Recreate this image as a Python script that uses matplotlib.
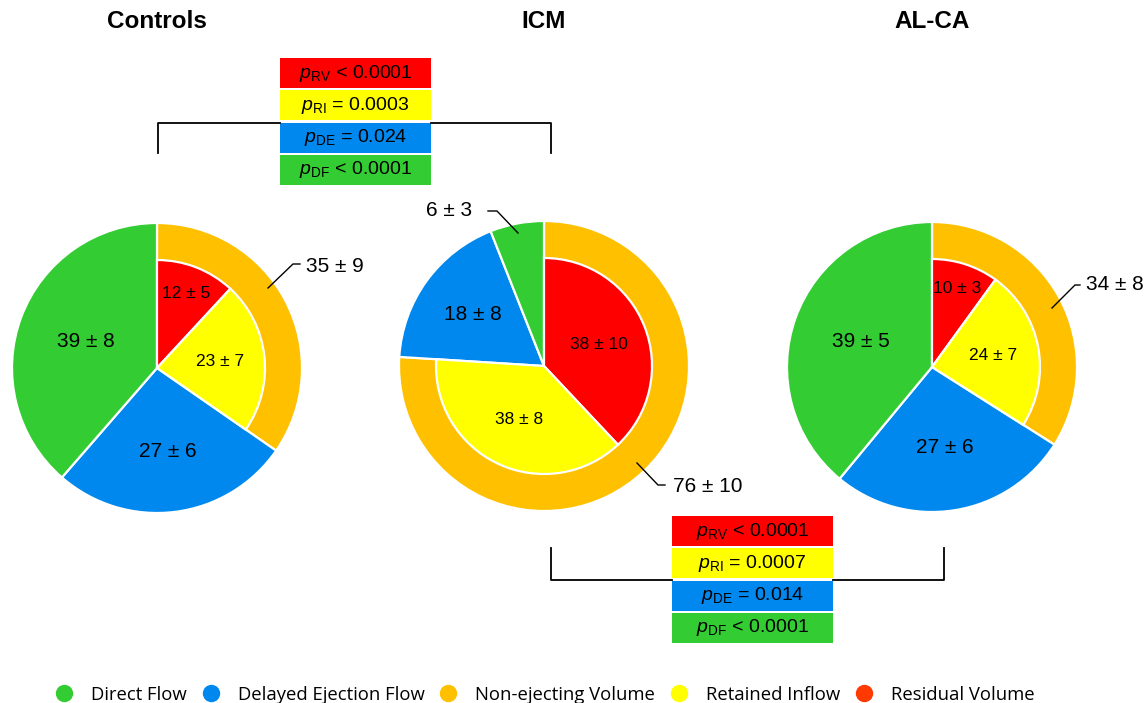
import matplotlib.pyplot as plt
from matplotlib.lines import Line2D
from matplotlib.patches import Rectangle
import numpy as np

plt.rcParams['font.family'] = ['Liberation Sans', 'DejaVu Sans']
plt.rcParams['mathtext.fontset'] = 'custom'
plt.rcParams['mathtext.rm'] = 'Liberation Sans'
plt.rcParams['mathtext.it'] = 'Liberation Sans:italic'

# data (% of LV end-diastolic volume, mean and sd)
groups = ['Controls', 'ICM', 'AL-CA']
direct_flow = [39, 6, 39]
direct_flow_sd = [8, 3, 5]
delayed_ejection = [27, 18, 27]
delayed_ejection_sd = [6, 8, 6]
non_ejecting = [35, 76, 34]
non_ejecting_sd = [9, 10, 8]
retained_inflow = [23, 38, 24]
retained_inflow_sd = [7, 8, 7]
residual_volume = [12, 38, 10]
residual_volume_sd = [5, 10, 3]

p_names = ['RV', 'RI', 'DE', 'DF']
p_controls_icm = ['< 0.0001', '= 0.0003', '= 0.024', '< 0.0001']
p_icm_alca = ['< 0.0001', '= 0.0007', '= 0.014', '< 0.0001']

legend_names = ['Direct Flow', 'Delayed Ejection Flow', 'Non-ejecting Volume',
                'Retained Inflow', 'Residual Volume']

GREEN = '#33CC33'
BLUE = '#0088EE'
ORANGE = '#FFC000'
YELLOW = '#FFFF00'
RED = '#FF0000'

W, H = 1147, 703
fig = plt.figure(figsize=(W / 100, H / 100), dpi=100)
ax = fig.add_axes([0, 0, 1, 1])

def Y(y):
    return H - y

centers = [(157, 368), (544, 366), (932, 367)]
R = 145
R_IN = 108
# radial position of labels (fraction of R): green, blue, red, yellow
label_r = [[0.52, 0.58, 0.55, 0.44],
           [None, 0.61, 0.41, 0.41],
           [0.52, 0.56, 0.57, 0.43]]

def put_label(w, c, frac, txt, size):
    th = np.deg2rad((w.theta1 + w.theta2) / 2)
    ax.text(c[0] + frac * R * np.cos(th), Y(c[1]) + frac * R * np.sin(th), txt,
            ha='center', va='center', fontsize=size)

for i in range(3):
    c = centers[i]
    outer = [non_ejecting[i], delayed_ejection[i], direct_flow[i]]
    ow, _ = ax.pie(outer, colors=[ORANGE, BLUE, GREEN], startangle=90, counterclock=False,
                   radius=R, center=(c[0], Y(c[1])),
                   wedgeprops=dict(edgecolor='white', linewidth=1.6))
    total = sum(outer)
    inner = [residual_volume[i], retained_inflow[i], total - residual_volume[i] - retained_inflow[i]]
    iw, _ = ax.pie(inner, colors=[RED, YELLOW, 'none'], startangle=90, counterclock=False,
                   radius=R_IN, center=(c[0], Y(c[1])),
                   wedgeprops=dict(edgecolor='white', linewidth=1.6))
    iw[2].set_visible(False)

    lr = label_r[i]
    if lr[0] is not None:
        put_label(ow[2], c, lr[0], f'{direct_flow[i]} ± {direct_flow_sd[i]}', 15)
    put_label(ow[1], c, lr[1], f'{delayed_ejection[i]} ± {delayed_ejection_sd[i]}', 15)
    put_label(iw[0], c, lr[2], f'{residual_volume[i]} ± {residual_volume_sd[i]}', 12.5)
    put_label(iw[1], c, lr[3], f'{retained_inflow[i]} ± {retained_inflow_sd[i]}', 12.5)

    ax.text(c[0], Y(22), groups[i], ha='center', va='center', fontsize=17.5, fontweight='bold')

# leader lines for outside labels
ax.plot([268, 293, 300], [Y(288), Y(264), Y(264)], color='black', lw=1)
ax.text(306, Y(266), f'{non_ejecting[0]} ± {non_ejecting_sd[0]}', ha='left', va='center', fontsize=15)
ax.plot([518, 497, 488], [Y(233), Y(211), Y(211)], color='black', lw=1)
ax.text(472, Y(211), f'{direct_flow[1]} ± {direct_flow_sd[1]}', ha='right', va='center', fontsize=15)
ax.plot([637, 658, 665], [Y(463), Y(485), Y(485)], color='black', lw=1)
ax.text(673, Y(486), f'{non_ejecting[1]} ± {non_ejecting_sd[1]}', ha='left', va='center', fontsize=15)
ax.plot([1052, 1075, 1080], [Y(308), Y(285), Y(285)], color='black', lw=1)
ax.text(1086, Y(285), f'{non_ejecting[2]} ± {non_ejecting_sd[2]}', ha='left', va='center', fontsize=15)

# p-value boxes with brackets
box_colors = [RED, YELLOW, BLUE, GREEN]

def p_box(x0, x1, tops, vals):
    for k in range(4):
        ax.add_patch(Rectangle((x0, Y(tops[k] + 30)), x1 - x0, 30, facecolor=box_colors[k],
                               edgecolor='none'))
        ax.text((x0 + x1) / 2, Y(tops[k] + 15), rf'$p_{{\mathrm{{{p_names[k]}}}}}$ {vals[k]}',
                ha='center', va='center', fontsize=14)

p_box(280, 431, [58, 90, 123, 155], p_controls_icm)
ax.plot([158, 158, 280], [Y(153), Y(123), Y(123)], color='black', lw=1.3)
ax.plot([431, 551, 551], [Y(123), Y(123), Y(153)], color='black', lw=1.3)

p_box(672, 833, [516, 548, 581, 613], p_icm_alca)
ax.plot([551, 551, 672], [Y(548), Y(580), Y(580)], color='black', lw=1.3)
ax.plot([833, 944, 944], [Y(580), Y(580), Y(548)], color='black', lw=1.3)

ax.set_xlim(0, W)
ax.set_ylim(0, H)
ax.set_aspect('equal')
ax.axis('off')

legend_colors = [GREEN, BLUE, ORANGE, YELLOW, '#FF3A00']
handles = [Line2D([], [], marker='o', ls='', ms=11.5, color=col) for col in legend_colors]
fig.legend(handles, legend_names, loc='center', bbox_to_anchor=(0.475, 0.012), ncol=5,
           frameon=False, prop={'family': 'Open Sans', 'size': 13.3},
           handletextpad=0.95, columnspacing=0.8, handlelength=1.0)

plt.savefig('out.png', dpi=100)
